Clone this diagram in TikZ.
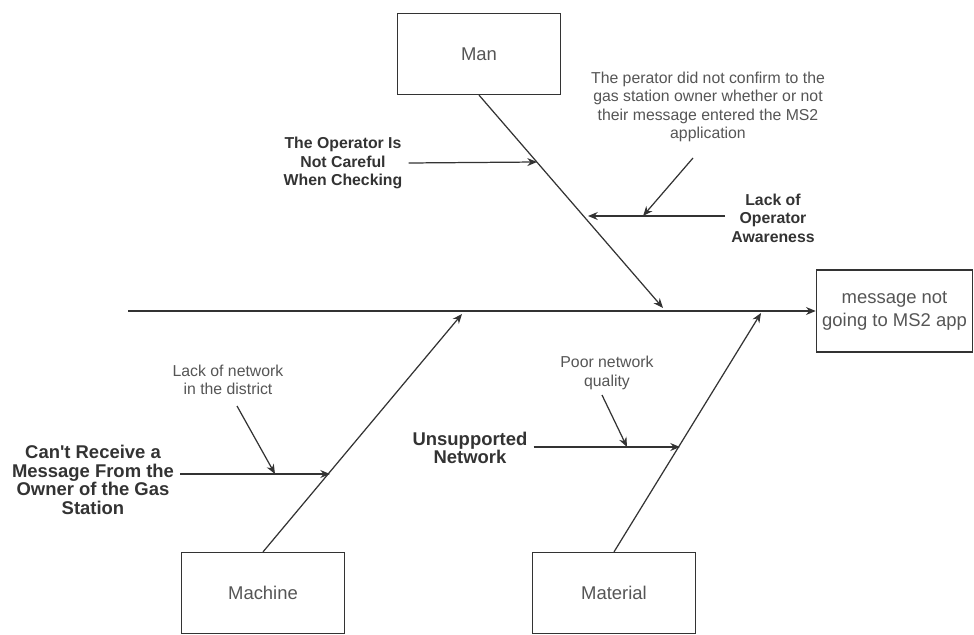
\documentclass[tikz,border=0pt]{standalone}
\usepackage{fontspec}
\setmainfont{Liberation Sans}
\usetikzlibrary{arrows.meta,positioning,calc}
\definecolor{linegray}{HTML}{333333}
\definecolor{textgray}{HTML}{555555}

\begin{document}
\begin{tikzpicture}[
        x=0.02cm, y=-0.02cm,
        >={Stealth[length=5.5pt,width=4.5pt]},
        % boxes of the fishbone
        catbox/.style={rectangle, draw=linegray, line width=0.7pt, text=textgray, align=center, minimum width=3.26cm, minimum height=1.62cm, font=\fontsize{10.5}{13}\selectfont},
        effectbox/.style={catbox, minimum width=3.1cm, minimum height=1.64cm},
        % texts
        causebig/.style={align=center, text=linegray, font=\bfseries\fontsize{10.5}{10.6}\selectfont},
        cause/.style={align=center, text=linegray, font=\bfseries\fontsize{9}{10.5}\selectfont},
        note/.style={align=center, text=textgray, font=\fontsize{9}{10.5}\selectfont},
        bone/.style={->, draw=linegray, line width=0.7pt}
    ]
        \useasboundingbox (0,0) rectangle (974,635);

        % Boxes
        \node[catbox] (man) at (479,54) {Man};
        \node[catbox] (machine) at (263,593) {Machine};
        \node[catbox] (material) at (614,593) {Material};
        \node[effectbox] (effect) at (894.5,311) {message not\\going to MS2 app};

        % Points on the spine and bones
        \coordinate (tail) at (128,311);
        \coordinate (manhead) at (663,308);
        \coordinate (machhead) at (462,314);
        \coordinate (mathead) at (761,313);
        \coordinate (c1) at (537,162);
        \coordinate (c2) at (588,216);
        \coordinate (c3) at (643,216);
        \coordinate (m1) at (330,474);
        \coordinate (m2) at (275,474);
        \coordinate (t1) at (680,447);
        \coordinate (t2) at (627,447);
        \coordinate (p0) at (693,158);
        \coordinate (n0) at (237,406);
        \coordinate (q0) at (602,395);

        % Texts
        \node[cause] (careless) at (343,163) {The Operator Is\\Not Careful\\When Checking};
        \node[cause] (aware) at (773,218) {Lack of\\Operator\\Awareness};
        \node[note] (perator) at (708,107) {The perator did not confirm to the\\gas station owner whether or not\\their message entered the MS2\\application};
        \node[causebig] (cant) at (93,480) {Can\textquotesingle t Receive a\\Message From the\\Owner of the Gas\\Station};
        \node[note] (lacknet) at (228,380) {Lack of network\\in the district};
        \node[causebig] (unsup) at (470,448) {Unsupported\\Network};
        \node[note] (poor) at (607,373) {Poor network\\quality};

        % Spine and bones
        \draw[bone] (tail) -- (effect.west);
        \draw[bone] (man.south) -- (manhead);
        \draw[bone] (machine.north) -- (machhead);
        \draw[bone] (material.north) -- (mathead);

        % Causes
        \draw[bone] (careless.east) -- (c1);
        \draw[bone] (aware.west |- c2) -- (c2);
        \draw[bone] (p0) -- (c3);
        \draw[bone] (cant.east |- m1) -- (m1);
        \draw[bone] (n0) -- (m2);
        \draw[bone] (unsup.east |- t1) -- (t1);
        \draw[bone] (q0) -- (t2);

    \end{tikzpicture}
\end{document}
